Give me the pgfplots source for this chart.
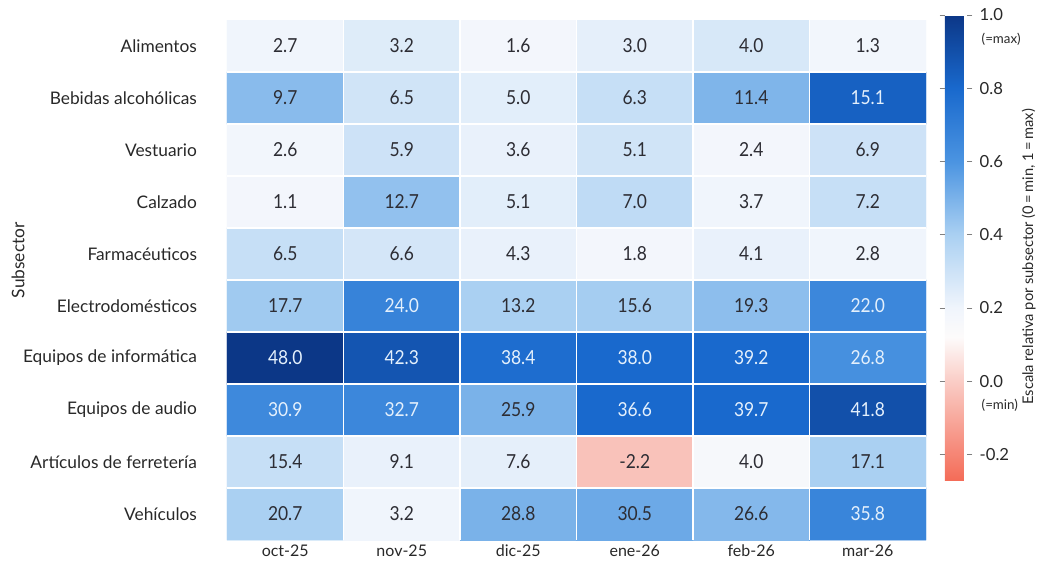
\documentclass[border=0pt]{standalone}
\usepackage{fontspec}
\setmainfont{Lato}
\newfontfamily\numfont{Lato}[FakeStretch=0.9]
\usepackage{pgfplots}
\usepackage{pgfplotstable}
\pgfplotsset{compat=1.18}
\definecolor{darktext}{RGB}{45,45,52}
\definecolor{lighttext}{RGB}{228,240,252}
\definecolor{labeltext}{RGB}{40,40,40}

% x = month index, y = subsector index, c = colour scale value
\pgfplotstableread{
x y c
0 0 0.20
1 0 0.25
2 0 0.18
3 0 0.23
4 0 0.27
5 0 0.19
0 1 0.47
1 1 0.29
2 1 0.24
3 1 0.32
4 1 0.49
5 1 0.83
0 2 0.19
1 2 0.30
2 2 0.22
3 2 0.29
4 2 0.18
5 2 0.30
0 3 0.18
1 3 0.45
2 3 0.24
3 3 0.34
4 3 0.20
5 3 0.32
0 4 0.32
1 4 0.28
2 4 0.22
3 4 0.18
4 4 0.22
5 4 0.20
0 5 0.42
1 5 0.68
2 5 0.40
3 5 0.41
4 5 0.46
5 5 0.66
0 6 1.00
1 6 0.88
2 6 0.78
3 6 0.80
4 6 0.80
5 6 0.62
0 7 0.65
1 7 0.66
2 7 0.50
3 7 0.80
4 7 0.80
5 7 0.90
0 8 0.32
1 8 0.22
2 8 0.23
3 8 -0.03
4 8 0.16
5 8 0.40
0 9 0.40
1 9 0.20
2 9 0.50
3 9 0.53
4 9 0.48
5 9 0.67
}\heat

\begin{document}
\begin{tikzpicture}
\begin{axis}[
  name=main,
  at={(0,0)}, anchor=south west,
  scale only axis,
  width=524.25pt, height=390pt,
  xmin=-0.5, xmax=5.5, ymin=-0.5, ymax=9.5,
  y dir=reverse,
  enlargelimits=false,
  axis line style={draw=none},
  tick style={draw=none},
  xtick={0,...,5},
  xticklabels={oct-25,nov-25,dic-25,ene-26,feb-26,mar-26},
  ytick={0,...,9},
  yticklabels={Alimentos,Bebidas alcohólicas,Vestuario,Calzado,Farmacéuticos,Electrodomésticos,Equipos de informática,Equipos de audio,Artículos de ferretería,Vehículos},
  minor xtick={0.5,1.5,2.5,3.5,4.5},
  minor ytick={0.5,1.5,2.5,3.5,4.5,5.5,6.5,7.5,8.5},
  xminorgrids=true, yminorgrids=true,
  minor grid style={white, line width=1.3pt},
  axis on top,
  xticklabel style={font=\fontsize{12}{14}\selectfont, text=labeltext},
  yticklabel style={font=\fontsize{13}{16}\selectfont, text=labeltext, xshift=-19pt},
  ylabel={Subsector},
  ylabel style={font=\fontsize{13}{15}\selectfont, text=labeltext, at={(axis description cs:-0.299,0.538)}, anchor=center},
  colormap={relheat}{
    rgb255(0pt)=(244,108,88);
    rgb255(27pt)=(250,205,198);
    rgb255(39pt)=(253,251,251);
    rgb255(47pt)=(240,245,252);
    rgb255(67pt)=(170,208,242);
    rgb255(87pt)=(75,148,225);
    rgb255(107pt)=(25,105,205);
    rgb255(127pt)=(12,55,135)
  },
  point meta min=-0.27, point meta max=1.0,
  colorbar,
  colorbar style={
    at={(parent axis.north east)}, anchor=north west,
    xshift=5.7pt, yshift=3.75pt,
    scale only axis,
    width=16.5pt, height=348.75pt,
    ytick={-0.2,0,0.2,0.4,0.6,0.8,1.0},
    yticklabels={
      -0.2,
      {\rlap{\raisebox{-17pt}[0pt][0pt]{\hspace{1.5pt}\fontsize{10}{12}\selectfont(=min)}}0.0},
      0.2,0.4,0.6,0.8,
      {\rlap{\raisebox{-17pt}[0pt][0pt]{\hspace{1.5pt}\fontsize{10}{12}\selectfont(=max)}}1.0}},
    axis line style={draw=none},
    ytick style={draw=gray, line width=0.6pt},
    major tick length=4pt,
    tick align=outside,
    yticklabel style={font=\fontsize{12.5}{14}\selectfont, text=labeltext, anchor=west, xshift=2pt},
    ylabel={Escala relativa por subsector (0\,=\,min, 1\,=\,max)},
    ylabel style={font=\fontsize{11}{13}\selectfont, text=labeltext, at={(axis description cs:3.8,0.48)}, anchor=center},
  },
]
\addplot[matrix plot*, mesh/cols=6, point meta=explicit] table[x=x, y=y, meta=c] {\heat};
% values in dark text
\addplot[draw=none, mark=none, point meta=explicit symbolic, nodes near coords,
  every node near coord/.append style={anchor=center, text=darktext, font=\numfont\fontsize{14.5}{16}\selectfont}]
  coordinates {
  (0,0)[2.7] (1,0)[3.2] (2,0)[1.6] (3,0)[3.0] (4,0)[4.0] (5,0)[1.3]
  (0,1)[9.7] (1,1)[6.5] (2,1)[5.0] (3,1)[6.3] (4,1)[11.4]
  (0,2)[2.6] (1,2)[5.9] (2,2)[3.6] (3,2)[5.1] (4,2)[2.4] (5,2)[6.9]
  (0,3)[1.1] (1,3)[12.7] (2,3)[5.1] (3,3)[7.0] (4,3)[3.7] (5,3)[7.2]
  (0,4)[6.5] (1,4)[6.6] (2,4)[4.3] (3,4)[1.8] (4,4)[4.1] (5,4)[2.8]
  (0,5)[17.7] (2,5)[13.2] (3,5)[15.6] (4,5)[19.3]
  (2,7)[25.9]
  (0,8)[15.4] (1,8)[9.1] (2,8)[7.6] (3,8)[-2.2] (4,8)[4.0] (5,8)[17.1]
  (0,9)[20.7] (1,9)[3.2] (2,9)[28.8] (3,9)[30.5] (4,9)[26.6]
  };
% values in light text
\addplot[draw=none, mark=none, point meta=explicit symbolic, nodes near coords,
  every node near coord/.append style={anchor=center, text=lighttext, font=\numfont\fontsize{14.5}{16}\selectfont}]
  coordinates {
  (5,1)[15.1]
  (1,5)[24.0] (5,5)[22.0]
  (0,6)[48.0] (1,6)[42.3] (2,6)[38.4] (3,6)[38.0] (4,6)[39.2] (5,6)[26.8]
  (0,7)[30.9] (1,7)[32.7] (3,7)[36.6] (4,7)[39.7] (5,7)[41.8]
  (5,9)[35.8]
  };
\end{axis}
\pgfresetboundingbox
\useasboundingbox (-170.25pt,-18.75pt) rectangle (612pt,405pt);
\end{tikzpicture}
\end{document}
